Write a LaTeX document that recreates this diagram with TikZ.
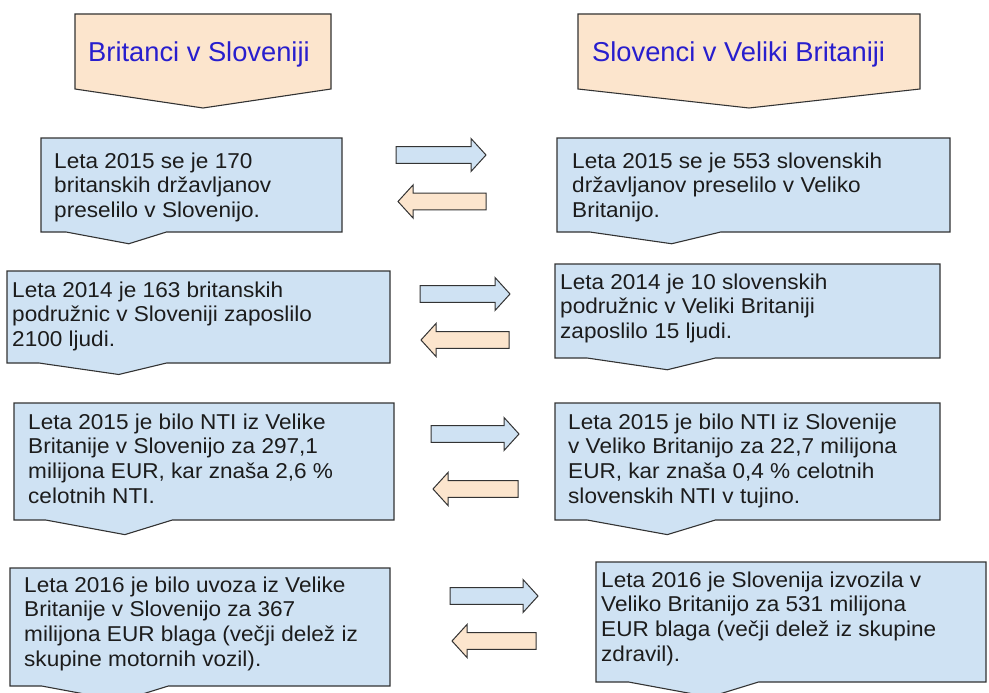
\documentclass[tikz,border=0pt]{standalone}
\usepackage{fontspec}
\setmainfont{Liberation Sans}
\newfontfamily\bodyfont{Liberation Sans}[FakeStretch=1.05]
\definecolor{boxblue}{HTML}{CFE2F3}
\definecolor{boxpeach}{HTML}{FCE5CD}
\definecolor{edgegray}{HTML}{333333}
\definecolor{headblue}{RGB}{40,30,205}
\definecolor{bodytext}{HTML}{1C1C1C}
\tikzset{
  calloutshape/.style={draw=edgegray, fill=boxblue, line width=1.1pt, line join=miter},
  headshape/.style={draw=edgegray, fill=boxpeach, line width=1.1pt},
  bodytxt/.style={anchor=north west, inner sep=0pt, align=left, text=bodytext,
    font=\bodyfont\fontsize{21.5}{24.6}\selectfont},
  headtxt/.style={anchor=base west, inner sep=0pt, text=headblue,
    font=\fontsize{27.3}{30}\selectfont},
  rarrowshape/.style={draw=edgegray, fill=boxblue, line width=1pt},
  larrowshape/.style={draw=edgegray, fill=boxpeach, line width=1pt},
}
% callout box: x1 y1 x2 y2 (pixel coords, y downward)
\newcommand\mycallout[4]{%
  \path[calloutshape] (#1,#2) -- (#3,#2) -- (#3,#4) -- ({#1+5*(#3-#1)/12},#4)
    -- ({#1+0.2917*(#3-#1)},{#2+1.125*(#4-#2)}) -- ({#1+(#3-#1)/12},#4) -- (#1,#4) -- cycle;}
% right arrow: x1 x2 yc
\newcommand\myrarr[3]{%
  \path[rarrowshape] (#1,{#3-8.4}) -- ({#2-15},{#3-8.4}) -- ({#2-15},{#3-16.5}) -- (#2,#3)
    -- ({#2-15},{#3+16.5}) -- ({#2-15},{#3+8.4}) -- (#1,{#3+8.4}) -- cycle;}
% left arrow: x1 x2 yc
\newcommand\mylarr[3]{%
  \path[larrowshape] (#1,#3) -- ({#1+15},{#3-16.5}) -- ({#1+15},{#3-8.4}) -- (#2,{#3-8.4})
    -- (#2,{#3+8.4}) -- ({#1+15},{#3+8.4}) -- ({#1+15},{#3+16.5}) -- cycle;}
\begin{document}
\begin{tikzpicture}[x=1pt,y=-1pt]
\useasboundingbox (0,0) rectangle (989,693);
\fill[white] (0,0) rectangle (989,693);
\clip (0,0) rectangle (989,693);

% headers
\path[headshape] (75,14) -- (331,14) -- (331,89) -- (203,108) -- (75,89) -- cycle;
\node[headtxt] (hl) at (88,62) {Britanci v Sloveniji};
\path[headshape] (578,14) -- (920,14) -- (920,89) -- (749,108) -- (578,89) -- cycle;
\node[headtxt] (hr) at (592,62) {Slovenci v Veliki Britaniji};

% row 1
\mycallout{41}{138}{342}{232}
\node[bodytxt] (l1) at (54,{168-17.22}) {\strut Leta 2015 se je 170\\britanskih državljanov\\preselilo v Slovenijo.};
\mycallout{557}{138}{950}{232}
\node[bodytxt] (r1) at (572,{168-17.22}) {\strut Leta 2015 se je 553 slovenskih\\državljanov preselilo v Veliko\\Britanijo.};
\myrarr{396}{486}{155}
\mylarr{398}{486}{201.5}

% row 2
\mycallout{7}{271}{390}{363}
\node[bodytxt] (l2) at (12,{297-17.22}) {\strut Leta 2014 je 163 britanskih\\podružnic v Sloveniji zaposlilo\\2100 ljudi.};
\mycallout{555}{264}{940}{358}
\node[bodytxt] (r2) at (560,{289-17.22}) {\strut Leta 2014 je 10 slovenskih\\podružnic v Veliki Britaniji\\zaposlilo 15 ljudi.};
\myrarr{420}{510}{294}
\mylarr{421}{509}{340}

% row 3
\mycallout{14}{403}{394}{520}
\node[bodytxt] (l3) at (28,{429-17.22}) {\strut Leta 2015 je bilo NTI iz Velike\\Britanije v Slovenijo za 297,1\\milijona EUR, kar znaša 2,6 \%\\celotnih NTI.};
\mycallout{555}{403}{940}{520}
\node[bodytxt] (r3) at (568,{429-17.22}) {\strut Leta 2015 je bilo NTI iz Slovenije\\v Veliko Britanijo za 22,7 milijona\\EUR, kar znaša 0,4 \% celotnih\\slovenskih NTI v tujino.};
\myrarr{431}{519}{434}
\mylarr{433}{518}{489}

% row 4
\mycallout{10}{568}{390}{686}
\node[bodytxt] (l4) at (24,{592-17.22}) {\strut Leta 2016 je bilo uvoza iz Velike\\Britanije v Slovenijo za 367\\milijona EUR blaga (večji delež iz\\skupine motornih vozil).};
\mycallout{596}{562}{986}{682}
\node[bodytxt] (r4) at (601,{587-17.22}) {\strut Leta 2016 je Slovenija izvozila v\\Veliko Britanijo za 531 milijona\\EUR blaga (večji delež iz skupine\\zdravil).};
\myrarr{450}{538}{596}
\mylarr{452}{536}{641}
\end{tikzpicture}
\end{document}
